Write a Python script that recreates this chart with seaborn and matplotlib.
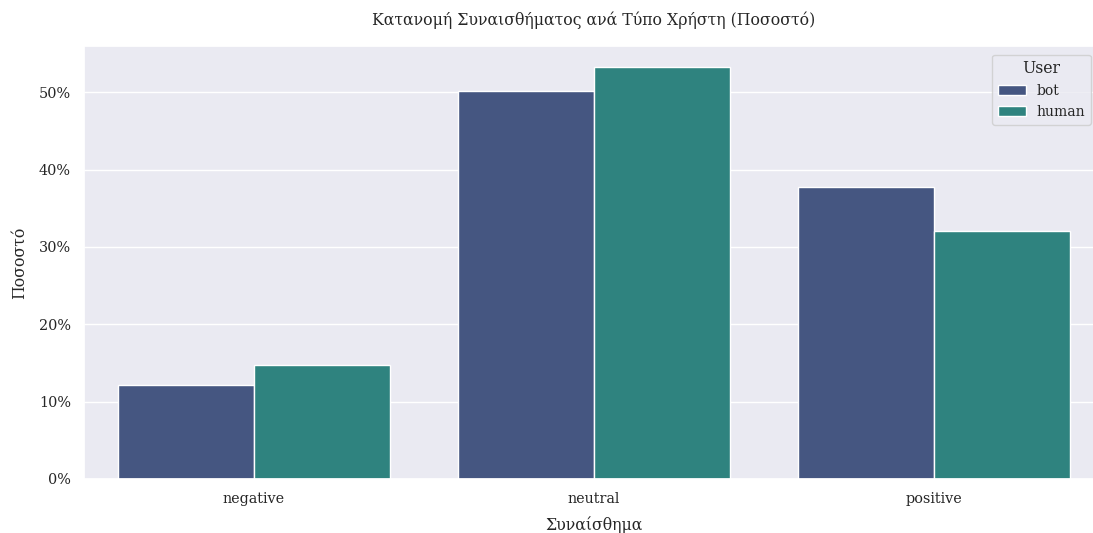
import numpy as np
import pandas as pd
import seaborn as sns
import matplotlib.pyplot as plt
from matplotlib.ticker import PercentFormatter

# data (fractions)
sentiments = ['negative', 'neutral', 'positive']
bot_share = [0.121, 0.501, 0.377]
human_share = [0.147, 0.533, 0.320]

df = pd.DataFrame({
    'sentiment': sentiments * 2,
    'user': ['bot'] * 3 + ['human'] * 3,
    'share': bot_share + human_share,
})

sns.set_theme(style='darkgrid')
plt.rcParams['font.family'] = ['DejaVu Serif']

fig = plt.figure(figsize=(10.93, 5.33), dpi=100)
# axes run past the right edge of the figure, as in the reference
ax = fig.add_axes([84 / 1093, 1 - 479 / 533, 1020 / 1093, (479 - 46) / 533])

sns.barplot(data=df, x='sentiment', y='share', hue='user',
            palette=sns.color_palette('viridis', 3)[:2],
            edgecolor='white', linewidth=1, ax=ax)

ax.yaxis.set_major_formatter(PercentFormatter(1.0, decimals=0))
ax.set_title('Κατανομή Συναισθήματος ανά Τύπο Χρήστη (Ποσοστό)', fontsize=11.3, pad=15)
ax.set_xlabel('Συναίσθημα', fontsize=11.3, labelpad=7)
ax.set_ylabel('Ποσοστό', fontsize=11.3, labelpad=8)
ax.tick_params(labelsize=10.4)
ax.legend(title='User', loc='upper right', bbox_to_anchor=(0.994, 0.996),
          fontsize=10, title_fontsize=11.3)

fig.savefig('out.png', dpi=100)
